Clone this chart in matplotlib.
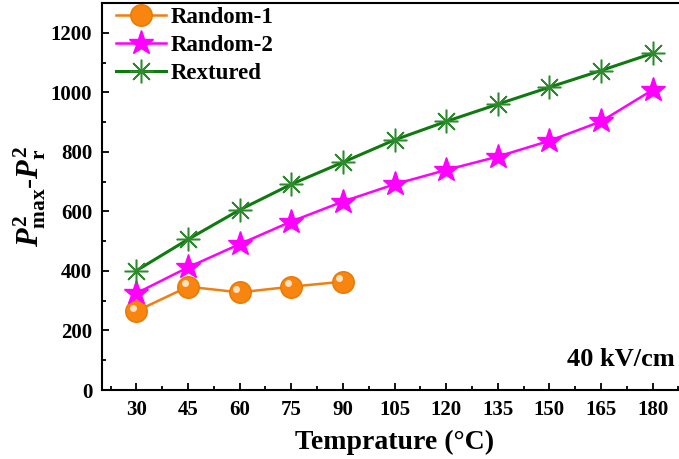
import matplotlib
matplotlib.use("Agg")
import matplotlib.pyplot as plt
from matplotlib.ticker import MultipleLocator
from matplotlib.transforms import offset_copy

temps = [30, 45, 60, 75, 90, 105, 120, 135, 150, 165, 180]
random1_t = [30, 45, 60, 75, 90]
random1 = [265, 347, 328, 347, 364]
random2 = [325, 412, 490, 566, 633, 691, 739, 784, 837, 902, 1008]
rextured = [401, 506, 605, 691, 765, 840, 902, 960, 1017, 1073, 1131]
xticks = [30, 45, 60, 75, 90, 105, 120, 135, 150, 165, 180]
yticks = [0, 200, 400, 600, 800, 1000, 1200]

plt.rcParams['font.family'] = 'Liberation Serif'
plt.rcParams['font.weight'] = 'bold'
plt.rcParams['mathtext.fontset'] = 'custom'
plt.rcParams['mathtext.it'] = 'Liberation Serif:italic:bold'
plt.rcParams['mathtext.rm'] = 'Liberation Serif:bold'
plt.rcParams['mathtext.bf'] = 'Liberation Serif:bold'

fig = plt.figure(figsize=(6.79, 4.59), dpi=100)
ax = fig.add_axes([102/679, 1-390/459, 585/679, 387/459])

ax.plot(random1_t, random1, color='#f07f10', lw=1.8, marker='o', ms=15.5,
        mfc='#f7850f', mec='#e87800', label='Random-1', zorder=3)
hl = offset_copy(ax.transData, fig=fig, x=-2.5, y=2.5, units='points')
ax.plot(random1_t, random1, ls='none', marker='o', ms=5, mfc='#ffe2c4',
        mec='none', transform=hl, zorder=3.5)
ax.plot(temps, random2, color='#ff00ff', lw=1.8, marker='*', ms=18.5,
        mfc='#ff00ff', mec='#ff00ff', label='Random-2', zorder=3)
ax.plot(temps, rextured, color='#0f7a0f', lw=2.2, marker=(8, 2, 0), ms=17,
        mec='#2d8a2d', mew=1.1, label='Rextured', zorder=4)

ax.set_xlim(20, 190)
ax.set_ylim(0, 1300)
ax.set_xticks(xticks)
ax.set_yticks(yticks)
ax.xaxis.set_minor_locator(MultipleLocator(7.5))
ax.yaxis.set_minor_locator(MultipleLocator(100))
ax.tick_params(which='both', direction='in', top=False, right=False, width=1.3)
ax.tick_params(which='major', length=5, labelsize=15, pad=7)
ax.tick_params(which='minor', length=3)
for lab in ax.get_xticklabels() + ax.get_yticklabels():
    lab.set_fontweight('bold')
for s in ax.spines.values():
    s.set_linewidth(1.5)

ax.set_xlabel('Temprature (°C)', fontsize=20, fontweight='bold', labelpad=7)
ax.set_ylabel(r'$P^2_{\rm max}$-$P^2_{\rm r}$', fontsize=22, labelpad=2)

fig.text(675/679, 1-360/459, '40 kV/cm', ha='right', va='center',
         fontsize=19, fontweight='bold')

leg = ax.legend(loc='upper left', bbox_to_anchor=(0.0, 1.025), frameon=False,
                fontsize=16.5, handlelength=2.2, handletextpad=0.2, labelspacing=0.3,
                borderaxespad=0.2)
for t in leg.get_texts():
    t.set_fontweight('bold')

fig.savefig('out.png', dpi=100)
